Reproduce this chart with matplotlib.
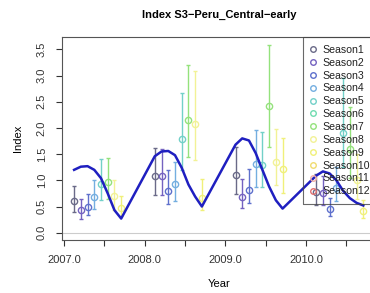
import numpy as np
import matplotlib
matplotlib.use("Agg")
import matplotlib.pyplot as plt

plt.rcParams['font.family'] = ['Liberation Sans', 'DejaVu Sans']

# Season index estimates per year (8 monthly points), with lower / upper bounds
years = [2007, 2008, 2009, 2010]
idx_2007 = [0.61, 0.43, 0.49, 0.68, 0.93, 0.96, 0.71, 0.48]
lo_2007 = [0.40, 0.27, 0.34, 0.45, 0.62, 0.64, 0.43, 0.31]
up_2007 = [0.90, 0.64, 0.73, 1.00, 1.40, 1.43, 1.01, 0.71]

idx_2008 = [1.08, 1.08, 0.80, 0.93, 1.78, 2.15, 2.08, 0.66]
lo_2008 = [0.72, 0.72, 0.55, 0.60, 1.19, 1.44, 1.39, 0.43]
up_2008 = [1.61, 1.59, 1.20, 1.35, 2.66, 3.21, 3.09, 1.02]

idx_2009 = [1.11, 0.69, 0.81, 1.32, 1.30, 2.42, 1.34, 1.21]
lo_2009 = [0.74, 0.47, 0.56, 0.88, 0.88, 1.64, 0.91, 0.75]
up_2009 = [1.64, 1.02, 1.21, 1.96, 1.93, 3.58, 1.97, 1.80]

idx_2010 = [0.77, 0.75, 0.45, 0.85, 1.90, 1.60, 1.00, 0.42]
lo_2010 = [0.53, 0.52, 0.31, 0.60, 1.25, 1.05, 0.65, 0.28]
up_2010 = [1.12, 1.08, 0.66, 1.25, 2.95, 2.40, 1.50, 0.62]

# fitted seasonal curve (same positions as the points)
fit_2007 = [1.20, 1.26, 1.27, 1.20, 1.04, 0.75, 0.43, 0.27]
fit_2008 = [1.46, 1.55, 1.56, 1.48, 1.24, 0.92, 0.69, 0.50]
fit_2009 = [1.68, 1.80, 1.76, 1.52, 1.20, 0.88, 0.62, 0.46]
fit_2010 = [1.09, 1.17, 1.13, 1.00, 0.80, 0.66, 0.57, 0.52]

season_names = ['Season%d' % i for i in range(1, 13)]
season_cols = ['#6a6a88', '#7462c0', '#5e70cc', '#74aee0', '#72d0c8', '#70dcb0',
               '#94e27c', '#f2f296', '#f0f07a', '#f0dc70', '#f0b0a8', '#e07070']
# which season colour each of the 8 monthly points takes
point_season = [0, 1, 2, 3, 4, 6, 7, 8]

idx = [idx_2007, idx_2008, idx_2009, idx_2010]
lo = [lo_2007, lo_2008, lo_2009, lo_2010]
up = [up_2007, up_2008, up_2009, up_2010]
fit = [fit_2007, fit_2008, fit_2009, fit_2010]

fig = plt.figure(figsize=(3.7, 2.93), dpi=100)
ax = fig.add_axes([62/370, 53/293, 314/370, 203/293])

ax.axhline(0, color='#cccccc', lw=0.8, zorder=0)

for yi, yr in enumerate(years):
    for s in range(8):
        xx = yr + (s + 1.5) / 12
        v = idx[yi][s]
        c = season_cols[point_season[s]]
        ax.errorbar([xx], [v], yerr=[[v - lo[yi][s]], [up[yi][s] - v]],
                    fmt='o', mfc='none', mec=c, ecolor=c,
                    ms=4.5, mew=1, elinewidth=1, capsize=1.5, zorder=2)

fx = []
fy = []
for yi, yr in enumerate(years):
    for s in range(8):
        fx.append(yr + (s + 1.5) / 12)
        fy.append(fit[yi][s])
ax.plot(fx, fy, color='#1f1fc0', lw=1.8, zorder=3)

handles = [plt.Line2D([], [], ls='none', marker='o', mfc='none', mec=c, ms=4, mew=1)
           for c in season_cols]
leg = ax.legend(handles, season_names, loc='upper right', bbox_to_anchor=(1.0067, 1.0),
                fontsize=7.6, frameon=True, fancybox=False, borderpad=0.75,
                labelspacing=0.27, handlelength=0.4, handletextpad=0.72, borderaxespad=0)
leg.get_frame().set_facecolor('none')
leg.get_frame().set_edgecolor('#444444')
leg.get_frame().set_linewidth(0.8)
for t in leg.get_texts():
    t.set_color('#222222')

ax.set_xlim(2006.975, 2010.866)
ax.set_ylim(-0.139, 3.735)
xt = np.arange(2007.0, 2011.0, 0.5)
ax.set_xticks(xt)
ax.set_xticklabels(['%.1f' % t if t == int(t) else '' for t in xt])
yt = np.arange(0, 3.6, 0.5)
ax.set_yticks(yt)
ax.set_yticklabels(['%.1f' % t for t in yt], rotation=90, va='center')
ax.tick_params(axis='x', length=4, pad=7, labelsize=8, colors='#333333')
ax.tick_params(axis='y', length=4, pad=7, labelsize=8, colors='#333333')
for sp in ax.spines.values():
    sp.set_color('#555555')
    sp.set_linewidth(0.8)

ax.set_title('Index S3\u2212Peru_Central\u2212early', fontsize=8, fontweight='bold', pad=14)
ax.set_xlabel('Year', fontsize=8, labelpad=10)
ax.set_ylabel('Index', fontsize=8, labelpad=10)

fig.savefig('out.png', dpi=100)
